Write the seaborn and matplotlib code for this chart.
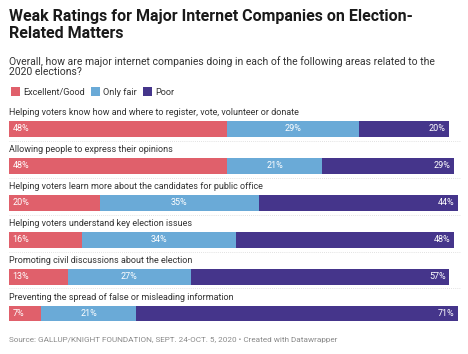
import pandas as pd
import matplotlib.pyplot as plt
import seaborn as sns
from matplotlib.patches import Patch

# data
areas = [
    "Helping voters know how and where to register, vote, volunteer or donate",
    "Allowing people to express their opinions",
    "Helping voters learn more about the candidates for public office",
    "Helping voters understand key election issues",
    "Promoting civil discussions about the election",
    "Preventing the spread of false or misleading information",
]
good = [48, 48, 20, 16, 13, 7]
fair = [29, 21, 35, 34, 27, 21]
poor = [20, 29, 44, 48, 57, 71]
series = ["Excellent/Good", "Only fair", "Poor"]
colors = ["#e0606b", "#6aaad7", "#45358b"]

df = pd.DataFrame({"area": areas, "good": good, "fair": fair, "poor": poor})
df["good_fair"] = df["good"] + df["fair"]
df["total"] = df["good_fair"] + df["poor"]

sns.set_theme(style="white")
plt.rcParams["font.family"] = ["Roboto", "DejaVu Sans"]

W, H = 468, 354
fig = plt.figure(figsize=(W / 100, H / 100), dpi=100)


def fy(px):
    return 1 - px / H


ax = fig.add_axes([9 / W, fy(332), 454 / W, (332 - 110.5) / H])

# stacked bars: draw cumulative totals back to front
bw = 0.43
for col, c in zip(["total", "good_fair", "good"], colors[::-1]):
    sns.barplot(data=df, x=col, y="area", color=c, width=bw, ax=ax,
                orient="h", saturation=1)
for p in ax.patches:
    p.set_linewidth(0)

ax.set_xlim(0, 100)
ax.set_ylim(len(areas) - 0.5, -0.5)
ax.axis("off")

fs = 6.5
for i, row in df.iterrows():
    ax.text(0, i - 0.44, row["area"], ha="left", va="center", fontsize=fs,
            color="#333333")
    ax.text(0.8, i, f"{row['good']}%", ha="left", va="center", fontsize=fs,
            color="white")
    ax.text(row["good"] + row["fair"] / 2, i, f"{row['fair']}%", ha="center",
            va="center", fontsize=fs, color="white")
    ax.text(row["total"] - 0.8, i, f"{row['poor']}%", ha="right", va="center",
            fontsize=fs, color="white")
    if i < len(areas) - 1:
        ax.plot([0, 99.5], [i + 0.32, i + 0.32], color="#d8d8d8", lw=0.6,
                ls=(0, (1, 1.5)), clip_on=False)

fig.text(9 / W, fy(9), "Weak Ratings for Major Internet Companies on Election-\nRelated Matters",
         ha="left", va="top", fontsize=11.5, fontweight="bold", color="#1a1a1a",
         linespacing=1.15)
fig.text(9 / W, fy(56), "Overall, how are major internet companies doing in each of the following areas related to the\n2020 elections?",
         ha="left", va="top", fontsize=7.5, color="#333333", linespacing=1.05)

handles = [Patch(facecolor=c, edgecolor="none") for c in colors]
fig.legend(handles, series, loc="center left", bbox_to_anchor=(6 / W, fy(92)),
           ncol=3, frameon=False, fontsize=6.6, handlelength=1.0, handleheight=1.1,
           handletextpad=0.4, columnspacing=0.6, borderpad=0, labelcolor="#333333")

fig.text(9 / W, fy(340), "Source: GALLUP/KNIGHT FOUNDATION, SEPT. 24-OCT. 5, 2020 \u2022 Created with Datawrapper",
         ha="left", va="center", fontsize=5.9, color="#8a8a8a")

fig.savefig("out.png", dpi=100)
